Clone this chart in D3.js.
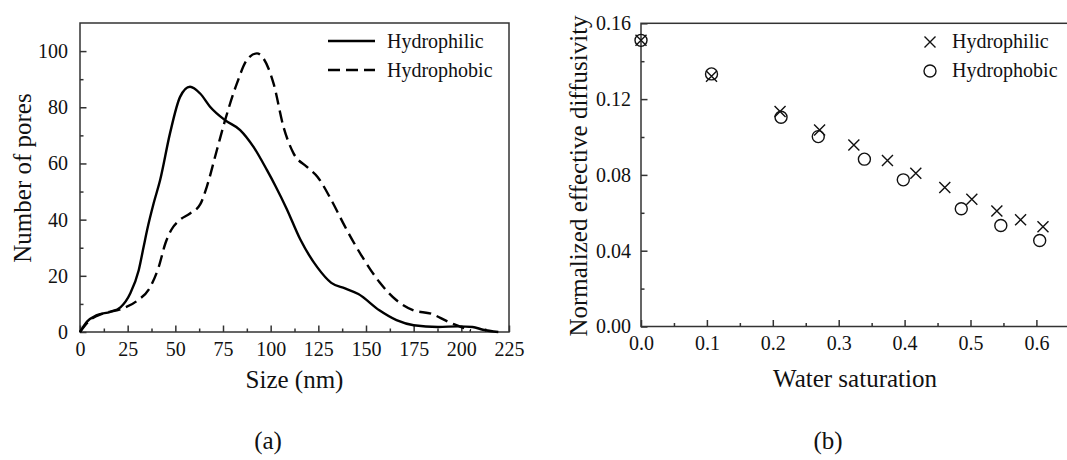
<!DOCTYPE html>
<html>
<head>
<meta charset="utf-8">
<script src="https://cdn.jsdelivr.net/npm/d3@7"></script>
<style>
  body { margin: 0; background: #fff; }
  svg text { font-family: "Liberation Serif", "DejaVu Serif", "Times New Roman", serif; fill: #111; }
</style>
</head>
<body>
<div id="chart"></div>
<script>
// (a) pore size distribution, [size nm, number of pores]
const hydrophilicPores = [
  [0, 0], [3.7, 3.7], [8.9, 6], [15.9, 7.2], [21.2, 8.8], [26.4, 13.8], [30.8, 22],
  [33.4, 30.4], [35.2, 36.3], [38.7, 46], [42, 54], [47.2, 70.7], [52.5, 83.7],
  [57.7, 87.3], [63, 84.9], [68.2, 80.2], [76.1, 75.4], [84, 71.9], [91, 65.9],
  [98, 57.7], [102.5, 52], [108.3, 44], [115.5, 33], [124.5, 23], [131.8, 17.5],
  [139, 15.5], [146, 13.5], [157, 7.7], [166, 4.2], [175, 2.4], [187.8, 1.8],
  [198.6, 2.0], [205.9, 1.8], [211.3, 0.8], [219.4, 0]
];
const hydrophobicPores = [
  [0, 0], [5.4, 4.3], [12.4, 6.6], [21.2, 8.1], [29.9, 11.1], [36.9, 16.1], [41.3, 23.2],
  [44.8, 31.6], [48, 36.5], [52.2, 39.8], [57.7, 42.2], [63.1, 45.5], [66.5, 51.7],
  [71.8, 64.8], [76.1, 75.4], [82.3, 88.5], [87.5, 96.8], [92.8, 99.2], [96.2, 97.4],
  [101.5, 88.5], [106.7, 73.1], [112, 63.6], [119, 58.8], [124.5, 55.3], [131.8, 47],
  [139, 37.5], [148, 26.8], [157, 17.8], [166, 11.3], [175, 7.7], [184.2, 6.5],
  [193.2, 3.6], [202.2, 1.2], [205, 0.5]
];
const sizeTicks = [0, 25, 50, 75, 100, 125, 150, 175, 200, 225];
const poreTicks = [0, 20, 40, 60, 80, 100];

// (b) normalized effective diffusivity vs water saturation
const hydrophilicDiff = [
  [0.0, 0.151], [0.107, 0.132], [0.211, 0.1134], [0.271, 0.1037], [0.323, 0.0958],
  [0.374, 0.0876], [0.417, 0.0809], [0.461, 0.0733], [0.502, 0.0672], [0.540, 0.0610],
  [0.576, 0.0563], [0.610, 0.0527]
];
const hydrophobicDiff = [
  [0.0, 0.151], [0.107, 0.1333], [0.2125, 0.1104], [0.269, 0.1002], [0.339, 0.0883],
  [0.398, 0.0774], [0.486, 0.0621], [0.546, 0.0533], [0.605, 0.0454]
];
const satTicks = [0, 0.1, 0.2, 0.3, 0.4, 0.5, 0.6];
const diffTicks = [0, 0.04, 0.08, 0.12, 0.16];

const W = 1067, H = 460;
const axisColor = '#333';
const serif = '"Liberation Serif", "DejaVu Serif", "Times New Roman", serif';

const svg = d3.select('#chart').append('svg')
  .attr('width', W)
  .attr('height', H)
  .attr('font-family', serif)
  .style('display', 'block');

svg.append('rect').attr('width', W).attr('height', H).attr('fill', '#fff');

function drawFrame(g, x0, x1, y0, y1) {
  g.append('rect')
    .attr('x', x0).attr('y', y1)
    .attr('width', x1 - x0).attr('height', y0 - y1)
    .attr('fill', 'none')
    .attr('stroke', axisColor)
    .attr('stroke-width', 1.5);
}

function styleAxis(sel) {
  sel.attr('font-family', serif);
  sel.select('.domain').remove();
  sel.selectAll('line').attr('stroke', axisColor).attr('stroke-width', 1.5);
  sel.selectAll('text').attr('font-size', 20).attr('fill', '#111');
}

function axes(g, x, y, xMajor, xMinor, yMajor, yMinor, xFmt, yFmt, xPad, yPad) {
  const [bottom] = y.range();
  const [left] = x.range();
  g.append('g').attr('transform', `translate(0,${bottom})`)
    .call(d3.axisBottom(x).tickValues(xMinor).tickSizeInner(-3.5).tickSizeOuter(0).tickFormat(''))
    .call(styleAxis);
  g.append('g').attr('transform', `translate(0,${bottom})`)
    .call(d3.axisBottom(x).tickValues(xMajor).tickSizeInner(-6.5).tickSizeOuter(0).tickPadding(xPad).tickFormat(xFmt))
    .call(styleAxis);
  g.append('g').attr('transform', `translate(${left},0)`)
    .call(d3.axisLeft(y).tickValues(yMinor).tickSizeInner(-3.5).tickSizeOuter(0).tickFormat(''))
    .call(styleAxis);
  g.append('g').attr('transform', `translate(${left},0)`)
    .call(d3.axisLeft(y).tickValues(yMajor).tickSizeInner(-6.5).tickSizeOuter(0).tickPadding(yPad).tickFormat(yFmt))
    .call(styleAxis);
}

// ---------- panel (a) ----------
const xa = d3.scaleLinear().domain([0, 225]).range([80, 509]);
const ya = d3.scaleLinear().domain([0, 110]).range([332, 23]);
const ga = svg.append('g');

axes(ga, xa, ya, sizeTicks, d3.range(12.5, 225, 25), poreTicks, d3.range(10, 110, 20),
  d3.format('d'), d3.format('d'), 10, 12);
drawFrame(ga, 80, 509, 332, 23);

const lineA = d3.line()
  .x(d => xa(d[0]))
  .y(d => ya(d[1]))
  .curve(d3.curveMonotoneX);

ga.append('path')
  .datum(hydrophilicPores)
  .attr('d', lineA)
  .attr('fill', 'none')
  .attr('stroke', '#000')
  .attr('stroke-width', 2.4);

ga.append('path')
  .datum(hydrophobicPores)
  .attr('d', lineA)
  .attr('fill', 'none')
  .attr('stroke', '#000')
  .attr('stroke-width', 2.4)
  .attr('stroke-dasharray', '12,6');

// legend (a)
const legA = [
  { name: 'Hydrophilic', dash: null, y: 41 },
  { name: 'Hydrophobic', dash: '12,6', y: 70 }
];
legA.forEach(d => {
  ga.append('line')
    .attr('x1', 328).attr('x2', 375)
    .attr('y1', d.y).attr('y2', d.y)
    .attr('stroke', '#000').attr('stroke-width', 2.4)
    .attr('stroke-dasharray', d.dash);
  ga.append('text')
    .attr('x', 387).attr('y', d.y + 6.5)
    .attr('font-size', 20)
    .text(d.name);
});

ga.append('text')
  .attr('x', (80 + 509) / 2).attr('y', 388)
  .attr('text-anchor', 'middle')
  .attr('font-size', 25)
  .text('Size (nm)');

ga.append('text')
  .attr('transform', 'translate(31,178) rotate(-90)')
  .attr('text-anchor', 'middle')
  .attr('font-size', 25)
  .text('Number of pores');

ga.append('text')
  .attr('x', 268).attr('y', 449)
  .attr('text-anchor', 'middle')
  .attr('font-size', 25)
  .text('(a)');

// ---------- panel (b) ----------
const xb = d3.scaleLinear().domain([0, 0.65]).range([641, 641 + 0.65 * 659]);
const yb = d3.scaleLinear().domain([0, 0.16]).range([326.5, 23.3]);
const gb = svg.append('g');

axes(gb, xb, yb, satTicks, d3.range(0.05, 0.65, 0.1), diffTicks, d3.range(0.02, 0.16, 0.04),
  d3.format('.1f'), d3.format('.2f'), 9, 10);
drawFrame(gb, 641, 641 + 0.65 * 659, 326.5, 23.3);

function cross(sel, s) {
  sel.append('path')
    .attr('d', `M${-s},${-s}L${s},${s}M${-s},${s}L${s},${-s}`)
    .attr('fill', 'none')
    .attr('stroke', '#111')
    .attr('stroke-width', 1.4);
}

function ring(sel, r) {
  sel.append('circle')
    .attr('r', r)
    .attr('fill', 'none')
    .attr('stroke', '#111')
    .attr('stroke-width', 1.4);
}

gb.append('g').selectAll('g')
  .data(hydrophilicDiff)
  .join('g')
  .attr('transform', d => `translate(${xb(d[0])},${yb(d[1])})`)
  .each(function () { cross(d3.select(this), 5.5); });

gb.append('g').selectAll('g')
  .data(hydrophobicDiff)
  .join('g')
  .attr('transform', d => `translate(${xb(d[0])},${yb(d[1])})`)
  .each(function () { ring(d3.select(this), 6); });

// legend (b)
const legB = svg.append('g');
cross(legB.append('g').attr('transform', 'translate(930,42)'), 5.5);
ring(legB.append('g').attr('transform', 'translate(930,71)'), 6);
legB.append('text').attr('x', 952).attr('y', 48).attr('font-size', 20).text('Hydrophilic');
legB.append('text').attr('x', 952).attr('y', 77).attr('font-size', 20).text('Hydrophobic');

gb.append('text')
  .attr('x', (641 + 1069) / 2).attr('y', 387)
  .attr('text-anchor', 'middle')
  .attr('font-size', 25)
  .text('Water saturation');

gb.append('text')
  .attr('transform', 'translate(587,176) rotate(-90)')
  .attr('text-anchor', 'middle')
  .attr('font-size', 25)
  .text('Normalized effective diffusivity');

gb.append('text')
  .attr('x', 828).attr('y', 449)
  .attr('text-anchor', 'middle')
  .attr('font-size', 25)
  .text('(b)');
</script>
</body>
</html>
